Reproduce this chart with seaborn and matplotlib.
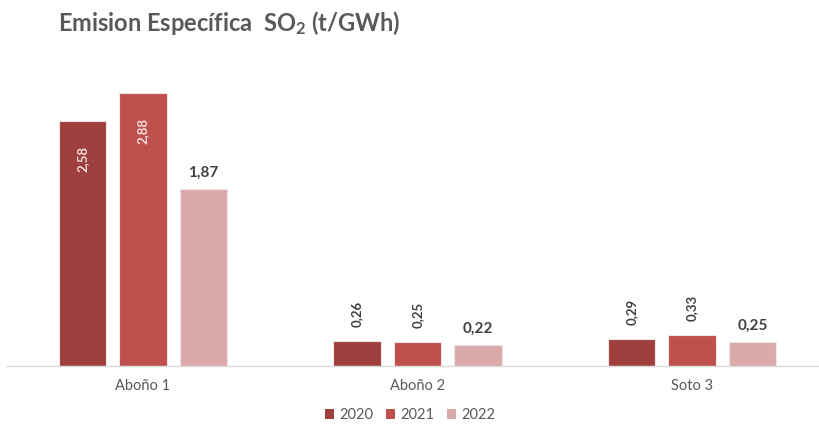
import matplotlib
matplotlib.use('Agg')
import matplotlib.pyplot as plt
import seaborn as sns
import pandas as pd
from matplotlib.patches import Patch

plantas = ['Aboño 1', 'Aboño 2', 'Soto 3']
anios = ['2020', '2021', '2022']
v2020 = [2.58, 0.26, 0.29]
v2021 = [2.88, 0.25, 0.33]
v2022 = [1.87, 0.22, 0.25]
colores = ['#9E3F3E', '#C0504D', '#DAA9A9']
titulo = 'Emision Específica  SO$_\\mathregular{2}$ (t/GWh)'

sns.set_theme(style='white')
plt.rcParams['font.family'] = ['Lato', 'DejaVu Sans']
plt.rcParams['mathtext.default'] = 'regular'

df = pd.DataFrame({
    'Planta': plantas * 3,
    'Año': [a for a in anios for _ in plantas],
    'Valor': v2020 + v2021 + v2022,
})

fig = plt.figure(figsize=(8.2, 4.26), dpi=100)
ax = fig.add_axes([5.75 / 820, 60 / 426, 823.5 / 820, 300 / 426])
sns.barplot(data=df, x='Planta', y='Valor', hue='Año', hue_order=anios,
            palette=colores, saturation=1, width=0.661, gap=0.22,
            edgecolor='#F3E4E4', linewidth=0.8, ax=ax, legend=False,
            errorbar=None)

ax.set_xlim(-0.5, 2.5)
ax.set_ylim(0, 300 / 94.8)
ax.set_xlabel('')
ax.set_ylabel('')
ax.set_yticks([])
for s in ['left', 'right', 'top']:
    ax.spines[s].set_visible(False)
ax.spines['bottom'].set_color('#D9D9D9')
ax.spines['bottom'].set_linewidth(1.0)
ax.tick_params(axis='x', length=0, pad=9, labelsize=10.5, labelcolor='#595959')


def fmt(v):
    return f'{v:.2f}'.replace('.', ',')


for i, cont in enumerate(ax.containers):
    for bar in cont:
        h = bar.get_height()
        x = bar.get_x() + bar.get_width() / 2
        if i == 2:
            ax.annotate(fmt(h), (x, h), xytext=(0, 6.5), textcoords='offset points',
                        ha='center', va='bottom', fontsize=11, fontweight='bold',
                        color='#404040')
        elif h > 1:
            ax.annotate(fmt(h), (x, h), xytext=(0, -18), textcoords='offset points',
                        ha='center', va='top', rotation=90, fontsize=9.5,
                        fontweight='bold', color='#F2DCDB')
        else:
            ax.annotate(fmt(h), (x, h), xytext=(0, 10), textcoords='offset points',
                        ha='center', va='bottom', rotation=90, fontsize=9.5,
                        fontweight='bold', color='#404040')

fig.text(58 / 820, 1 - 23 / 426, titulo, ha='left', va='center', fontsize=17,
         fontweight='bold', color='#595959')

handles = [Patch(facecolor=c, edgecolor='none') for c in colores]
fig.legend(handles=handles, labels=anios, loc='center',
           bbox_to_anchor=(410 / 820, 1 - 415 / 426), ncol=3, frameon=False,
           handlelength=0.65, handleheight=0.65, handletextpad=0.35,
           columnspacing=0.85, fontsize=10.5, labelcolor='#595959')

fig.savefig('out.png', dpi=100)
